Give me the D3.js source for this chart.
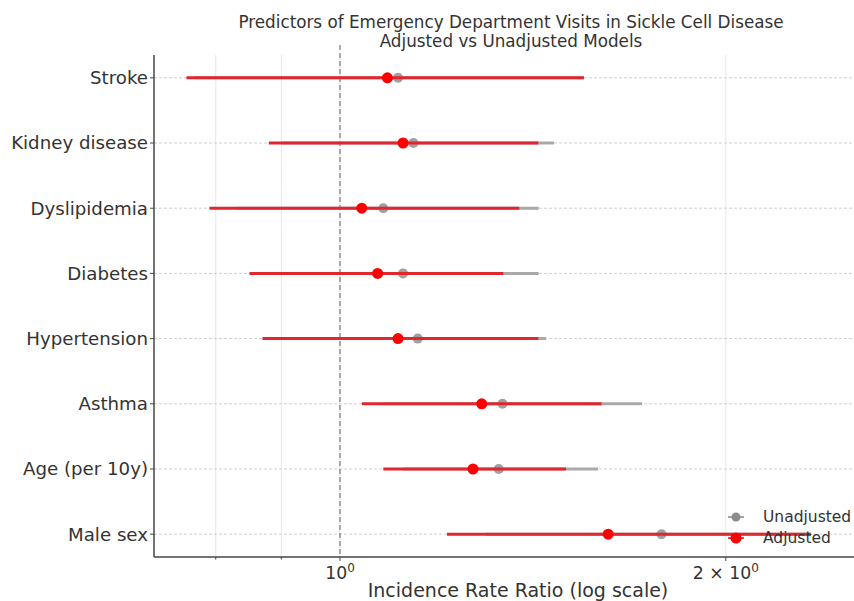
<!DOCTYPE html>
<html><head><meta charset="utf-8">
<script src="https://cdn.jsdelivr.net/npm/d3@7"></script>
<style>body{margin:0;background:#fff}svg{display:block;font-family:"DejaVu Sans",sans-serif}</style>
</head><body><svg id="c" width="854" height="601"></svg>
<script>
const categories = ["Stroke","Kidney disease","Dyslipidemia","Diabetes","Hypertension","Asthma","Age (per 10y)","Male sex"];
const adjEst = [1.089,1.120,1.040,1.070,1.110,1.290,1.270,1.619];
const adjLo  = [0.759,0.880,0.791,0.850,0.870,1.040,1.081,1.212];
const adjHi  = [1.550,1.428,1.380,1.341,1.428,1.600,1.501,2.330];
const unEst  = [1.110,1.141,1.081,1.120,1.150,1.339,1.330,1.782];
const unLo   = [0.770,0.900,0.830,0.880,0.900,1.080,1.120,1.300];
const unHi   = [1.550,1.469,1.429,1.429,1.448,1.721,1.590,2.330];
const majorTicks = [1,2];
const minorTicks = [0.8,0.9];
const tickLabels = [["10","0"],["2 × 10","0"]];
const titleLines = ["Predictors of Emergency Department Visits in Sickle Cell Disease","Adjusted vs Unadjusted Models"];
const xLabel = "Incidence Rate Ratio (log scale)";
const legendItems = [{name:"Unadjusted",color:"#8c8c8c"},{name:"Adjusted",color:"red"}];

const svg = d3.select("#c");
const L=154, R=874, T=55, B=557;
const x = d3.scaleLog().domain([0.716,2.61]).range([L,R]);
const y = d3.scalePoint().domain(categories).range([T,B]).padding(0.35);
const txt="#333";

// grids
svg.append("g").selectAll("line").data(minorTicks.concat(majorTicks)).join("line")
  .attr("x1",d=>x(d)).attr("x2",d=>x(d)).attr("y1",T).attr("y2",B)
  .attr("stroke","#e6e6e6").attr("stroke-width",1);
svg.append("g").selectAll("line").data(categories).join("line")
  .attr("x1",L).attr("x2",R).attr("y1",d=>y(d)).attr("y2",d=>y(d))
  .attr("stroke","#cfcfcf").attr("stroke-width",1).attr("stroke-dasharray","3,2");
// reference line
svg.append("line").attr("x1",x(1)).attr("x2",x(1)).attr("y1",T-10).attr("y2",B)
  .attr("stroke","#777").attr("stroke-width",1.2).attr("stroke-dasharray","5,3");

// unadjusted
const gU = svg.append("g");
gU.selectAll("line").data(categories).join("line")
  .attr("x1",(d,i)=>x(unLo[i])).attr("x2",(d,i)=>x(unHi[i]))
  .attr("y1",d=>y(d)).attr("y2",d=>y(d))
  .attr("stroke","#a9a9a9").attr("stroke-width",3);
gU.selectAll("circle").data(categories).join("circle")
  .attr("cx",(d,i)=>x(unEst[i])).attr("cy",d=>y(d)).attr("r",5)
  .attr("fill","#a0a0a0");
// adjusted
const gA = svg.append("g");
gA.selectAll("line").data(categories).join("line")
  .attr("x1",(d,i)=>x(adjLo[i])).attr("x2",(d,i)=>x(adjHi[i]))
  .attr("y1",d=>y(d)).attr("y2",d=>y(d))
  .attr("stroke","#e0262e").attr("stroke-width",3);
gA.selectAll("circle").data(categories).join("circle")
  .attr("cx",(d,i)=>x(adjEst[i])).attr("cy",d=>y(d)).attr("r",5.5)
  .attr("fill","red");

// spines
svg.append("line").attr("x1",L).attr("x2",L).attr("y1",T).attr("y2",B).attr("stroke","#444").attr("stroke-width",1.5);
svg.append("line").attr("x1",L).attr("x2",R).attr("y1",B).attr("y2",B).attr("stroke","#444").attr("stroke-width",1.5);

// y axis labels and ticks
svg.append("g").selectAll("line").data(categories).join("line")
  .attr("x1",L-4).attr("x2",L).attr("y1",d=>y(d)).attr("y2",d=>y(d)).attr("stroke","#444");
svg.append("g").selectAll("text").data(categories).join("text")
  .attr("x",L-6).attr("y",d=>y(d)).attr("dy","0.35em").attr("text-anchor","end")
  .attr("font-size",18.2).attr("fill",txt).text(d=>d);

// x ticks
svg.append("g").selectAll("line").data(majorTicks).join("line")
  .attr("x1",d=>x(d)).attr("x2",d=>x(d)).attr("y1",B).attr("y2",B+4).attr("stroke","#444");
svg.append("g").selectAll("line").data(minorTicks).join("line")
  .attr("x1",d=>x(d)).attr("x2",d=>x(d)).attr("y1",B).attr("y2",B+2.5).attr("stroke","#444");
const tl = svg.append("g").selectAll("text").data(majorTicks).join("text")
  .attr("x",d=>x(d)).attr("y",B+22).attr("text-anchor","middle").attr("font-size",17.3).attr("fill",txt);
tl.append("tspan").text((d,i)=>tickLabels[i][0]);
tl.append("tspan").attr("dy",-7).attr("font-size",12).text((d,i)=>tickLabels[i][1]);

svg.append("text").attr("x",518).attr("y",597).attr("text-anchor","middle")
  .attr("font-size",19).attr("fill",txt).text(xLabel);

svg.append("g").selectAll("text").data(titleLines).join("text")
  .attr("x",511).attr("y",(d,i)=>28+i*19).attr("text-anchor","middle")
  .attr("font-size",16.8).attr("fill",txt).text(d=>d);

// legend
const lg = svg.append("g").selectAll("g").data(legendItems).join("g")
  .attr("transform",(d,i)=>`translate(736,${517+i*21})`);
lg.append("line").attr("x1",-8).attr("x2",8).attr("stroke",d=>d.color).attr("stroke-width",2).attr("stroke-opacity",0.8);
lg.append("circle").attr("r",(d,i)=>i?5.5:4.5).attr("fill",d=>d.color);
lg.append("text").attr("x",27).attr("dy","0.35em").attr("font-size",15.5).attr("fill",txt).text(d=>d.name);
</script></body></html>
